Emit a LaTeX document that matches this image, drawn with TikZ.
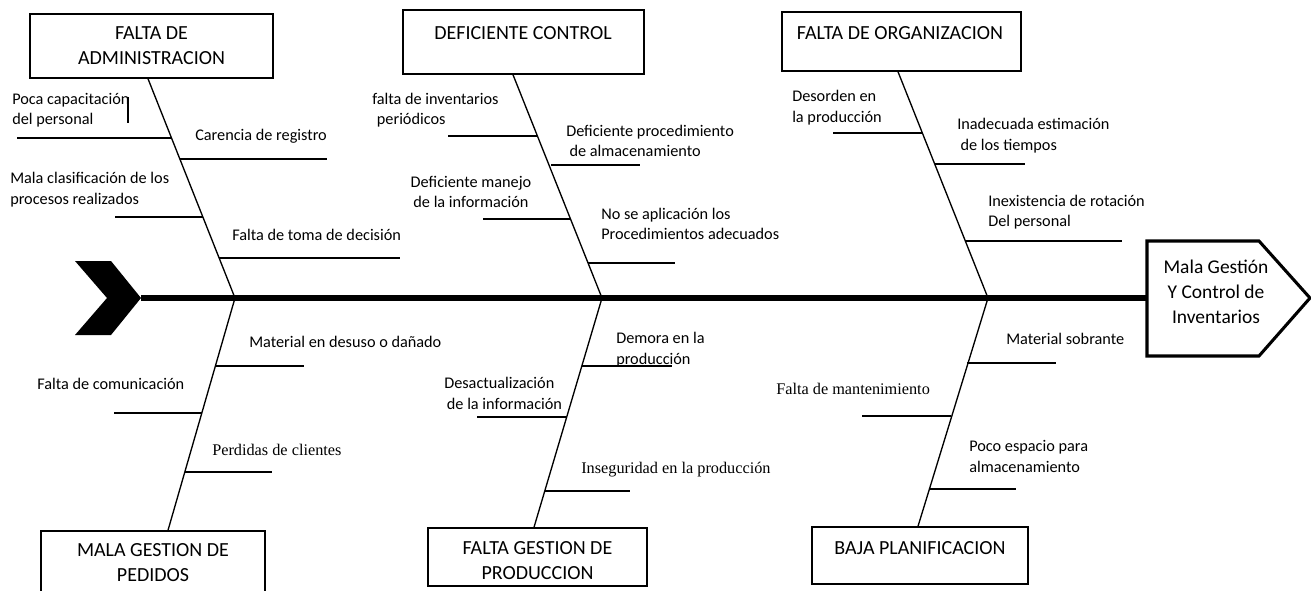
\documentclass[tikz,border=0pt]{standalone}
\usepackage{fontspec}
\setmainfont{Carlito}
\newfontfamily\tnr{Liberation Serif}
\begin{document}
\begin{tikzpicture}[x=0.75pt,y=-0.75pt,
  lbl/.style={inner sep=0pt,anchor=west,align=left,font=\fontsize{12.2}{15.4}\selectfont},
  slbl/.style={inner sep=0pt,anchor=west,align=left,font=\tnr\fontsize{12.2}{15.4}\selectfont},
  ttl/.style={inner sep=0pt,align=center,font=\fontsize{15}{18.75}\selectfont},
  boxst/.style={draw,line width=1.1pt,rectangle,inner sep=0pt},
  bone/.style={line width=1pt},
  twig/.style={line width=0.9pt},
  spine/.style={line width=4pt},
]
\useasboundingbox (0,0) rectangle (1311,590);
\clip (0,0) rectangle (1311,590);

% ---- spine, tail and head ----
\fill (75,261) -- (111,261) -- (141,298) -- (111,335) -- (75,335) -- (107,298) -- cycle;
\coordinate (tail) at (141,298);
\coordinate (headL) at (1147,298);
\draw[line width=2.3pt,line join=miter] (1147,241) -- (1259,241) -- (1310,298) -- (1259,356) -- (1147,356) -- cycle;
\node[ttl,font=\fontsize{14.6}{18.75}\selectfont] (head) at (1216,292) {Mala Gestión\\Y Control de\\Inventarios};
\draw[spine] (tail) -- (headL);

% ---- category boxes (sizes in pt = px*0.75) ----
\node[boxst,minimum width=182.25pt,minimum height=48pt] (b1) at (151.5,46) {};
\node[ttl] (t1) at (151.5,45.5) {FALTA DE\\ADMINISTRACION};
\node[boxst,minimum width=180.75pt,minimum height=48pt] (b2) at (523.5,42) {};
\node[ttl] (t2) at (523,33) {DEFICIENTE CONTROL};
\node[boxst,minimum width=179.25pt,minimum height=44.25pt] (b3) at (901.5,41.5) {};
\node[ttl] (t3) at (900,33) {FALTA DE ORGANIZACION};
\node[boxst,minimum width=168pt,minimum height=60pt] (b4) at (153,571) {};
\node[ttl] (t4) at (153,562.5) {MALA GESTION DE\\PEDIDOS};
\node[boxst,minimum width=164.25pt,minimum height=43.5pt] (b5) at (537.5,557) {};
\node[ttl] (t5) at (537.5,560.5) {FALTA GESTION DE\\PRODUCCION};
\node[boxst,minimum width=162pt,minimum height=42.75pt] (b6) at (920,555.5) {};
\node[ttl] (t6) at (920,548) {BAJA PLANIFICACION};

% ---- bones ----
\coordinate (j1) at (235,298);
\coordinate (j2) at (602,298);
\coordinate (j3) at (988,298);
\draw[bone] (b1.south -| 148,0) -- (j1);
\draw[bone] (b2.south -| 513,0) -- (j2);
\draw[bone] (b3.south -| 898,0) -- (j3);
\draw[bone] (j1) -- (b4.north -| 168,0);
\draw[bone] (j2) -- (b5.north -| 534,0);
\draw[bone] (j3) -- (b6.north -| 918,0);

% ---- twigs: top 1 ----
\draw[twig] (17,138) -- (171,138);
\draw[twig] (180,159) -- (327,159);
\draw[twig] (115,217) -- (203,217);
\draw[twig] (219,258) -- (400,258);
\draw[twig] (128,97) -- (128,123);
\node[lbl] (l11) at (12,110) {Poca capacitación\\del personal};
\node[lbl] (l12) at (195,136) {Carencia de registro};
\node[lbl] (l13) at (10,189.5) {Mala clasificación de los\\procesos realizados};
\node[lbl] (l14) at (232,235) {Falta de toma de decisión};

% ---- twigs: top 2 ----
\draw[twig] (448,136) -- (537,136);
\draw[twig] (551,165) -- (640,165);
\draw[twig] (483,219) -- (570,219);
\draw[twig] (588,263) -- (675,263);
\node[lbl] (l21) at (372,110) {falta de inventarios\\\hspace*{3.5pt}periódicos};
\node[lbl] (l22) at (566,141) {Deficiente procedimiento\\\hspace*{2.5pt}de almacenamiento};
\node[lbl,align=center,anchor=center] (l23) at (471,192) {Deficiente manejo\\de la información};
\node[lbl] (l24) at (601,224) {No se aplicación los\\Procedimientos adecuados};

% ---- twigs: top 3 ----
\draw[twig] (833,133) -- (922,133);
\draw[twig] (935,164) -- (1025,164);
\draw[twig] (965,241) -- (1122,241);
\node[lbl] (l31) at (792,107.5) {Desorden en\\la producción};
\node[lbl] (l32) at (957,135.5) {Inadecuada estimación\\\hspace*{2.5pt}de los tiempos};
\node[lbl] (l33) at (988,212) {Inexistencia de rotación\\Del personal};

% ---- twigs: bottom 1 ----
\draw[twig] (215,366) -- (304,366);
\draw[twig] (114,413) -- (202,413);
\draw[twig] (185,472) -- (272,472);
\node[lbl] (l41) at (249,342) {Material en desuso o dañado};
\node[lbl] (l42) at (37,384) {Falta de comunicación};
\node[slbl] (l43) at (212,450) {Perdidas de clientes};

% ---- twigs: bottom 2 ----
\draw[twig] (582,366) -- (672,366);
\draw[twig] (477,417) -- (567,417);
\draw[twig] (545,491) -- (630,491);
\node[lbl] (l51) at (616,349.5) {Demora en la\\producción};
\node[lbl] (l52) at (444,393.5) {Desactualización\\\hspace*{2pt}de la información};
\node[slbl] (l53) at (581,470) {Inseguridad en la producción};

% ---- twigs: bottom 3 ----
\draw[twig] (967,363) -- (1056,363);
\draw[twig] (862,416) -- (951,416);
\draw[twig] (930,489) -- (1016,489);
\node[lbl] (l61) at (1006,339) {Material sobrante};
\node[slbl] (l62) at (776,389) {Falta de mantenimiento};
\node[lbl] (l63) at (969,456.5) {Poco espacio para\\almacenamiento};
\end{tikzpicture}
\end{document}
